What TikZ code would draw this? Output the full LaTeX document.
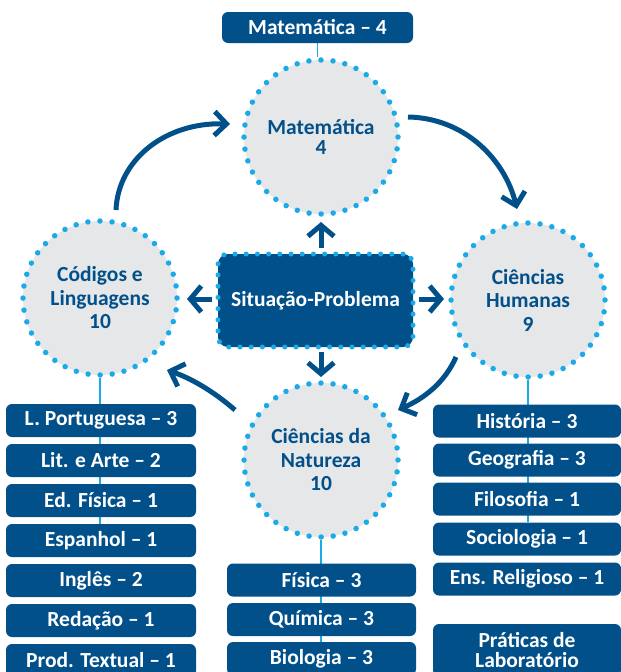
\documentclass[tikz,border=0pt]{standalone}
\usepackage{fontspec}
\setmainfont{Carlito}
\usetikzlibrary{arrows.meta,backgrounds}
\definecolor{navy}{HTML}{02508A}
\definecolor{cyanb}{HTML}{1AAAE8}
\definecolor{grayf}{HTML}{E6E7E8}
\tikzset{
  subj/.style={fill=navy, rounded corners=6pt, text=white,
    font=\fontsize{21.5}{22}\selectfont\bfseries, minimum height=33pt,
    minimum width=190pt, inner sep=0pt, align=center},
  area/.style={circle, fill=grayf, draw=cyanb, line width=5.5pt,
    dash pattern=on 0pt off 12.1pt, line cap=round, minimum size=154pt,
    inner sep=0pt, text=navy, align=center,
    font=\fontsize{21.5}{23.5}\selectfont\bfseries},
  cyc/.style={draw=navy, line width=5pt, -{Straight Barb[length=12pt,width=24pt]}},
  small/.style={draw=navy, line width=5pt, -{Straight Barb[length=11pt,width=26pt]}},
  link/.style={draw=cyanb, line width=1.6pt},
}
\begin{document}
\begin{tikzpicture}[x=1pt,y=-1pt]
\path[use as bounding box] (0,0) rectangle (621,672);

% top label
\node[subj, minimum width=191pt, minimum height=31pt] (top) at (317.5,27.5) {Matemática – 4};

% circles
\node[area, font=\fontsize{21.5}{20}\selectfont\bfseries] (mat) at (321,137) {Matemática\\4};
\node[area] (hum) at (528,300) {Ciências\\Humanas\\9};
\node[area] (lang) at (100,298) {Códigos e\\Linguagens\\10};
\node[area] (nat) at (321,460) {Ciências da\\Natureza\\10};

% center
\node[fill=navy, draw=cyanb, line width=5pt, dash pattern=on 0pt off 11.2pt,
  line cap=round, rounded corners=10pt, minimum width=195pt, minimum height=93pt,
  text=white, font=\fontsize{21.5}{22}\selectfont\bfseries] (sp) at (315.5,300.5) {Situação-Problema};

% left list
\node[subj] (lp) at (101,420.5) {L. Portuguesa – 3};
\node[subj] (lit) at (101,460.5) {Lit. e Arte – 2};
\node[subj] (edf) at (101,500.5) {Ed. Física – 1};
\node[subj] (esp) at (101,540.5) {Espanhol – 1};
\node[subj] (ing) at (101,580.5) {Inglês – 2};
\node[subj] (red) at (101,620.5) {Redação – 1};
\node[subj] (prod) at (101,660.5) {Prod. Textual – 1};

% middle list
\node[subj, minimum width=189pt] (fis) at (321.5,580) {Física – 3};
\node[subj, minimum width=189pt] (qui) at (321.5,619.5) {Química – 3};
\node[subj, minimum width=189pt] (bio) at (321.5,658.5) {Biologia – 3};

% right list
\node[subj, minimum width=188pt] (his) at (527,421) {História – 3};
\node[subj, minimum width=188pt] (geo) at (527,460) {Geografia – 3};
\node[subj, minimum width=188pt] (fil) at (527,499) {Filosofia – 1};
\node[subj, minimum width=188pt] (soc) at (527,539) {Sociologia – 1};
\node[subj, minimum width=188pt] (ens) at (527,579) {Ens. Religioso – 1};
\node[subj, minimum width=188pt, minimum height=52pt, font=\fontsize{21.5}{20}\selectfont\bfseries] (prat) at (527,650) {Práticas de\\Laboratório};

% thin links
\begin{scope}[on background layer]
  \draw[link] (top.south) -- (top.south |- mat.north);
  \draw[link] (lang.south) -- (lang.south |- esp.north);
  \draw[link] (nat.south) -- (nat.south |- bio.north);
  \draw[link] (hum.south) -- (hum.south |- soc.north);
\end{scope}

% small arrows
\coordinate (u0) at (321,248); \coordinate (u1) at (321,222);
\coordinate (d0) at (321,352); \coordinate (d1) at (321,377);
\coordinate (l0) at (212,299); \coordinate (l1) at (187,299);
\coordinate (r0) at (419,299); \coordinate (r1) at (444,299);
\draw[small] (u0) -- (u1);
\draw[small] (d0) -- (d1);
\draw[small] (l0) -- (l1);
\draw[small] (r0) -- (r1);

% cycle arrows
\coordinate (a0) at (116,210); \coordinate (a1) at (230,124);
\coordinate (b0) at (408,117); \coordinate (b1) at (517,209);
\coordinate (c0) at (456,357); \coordinate (c1) at (398,410);
\coordinate (e0) at (235,410); \coordinate (e1) at (167,370);
\draw[cyc] (a0) .. controls (118,160) and (165,122) .. (a1);
\draw[cyc] (b0) .. controls (465,118) and (505,160) .. (b1);
\draw[cyc] (c0) .. controls (445,382) and (425,398) .. (c1);
\draw[cyc] (e0) .. controls (212,390) and (190,378) .. (e1);
\end{tikzpicture}
\end{document}
